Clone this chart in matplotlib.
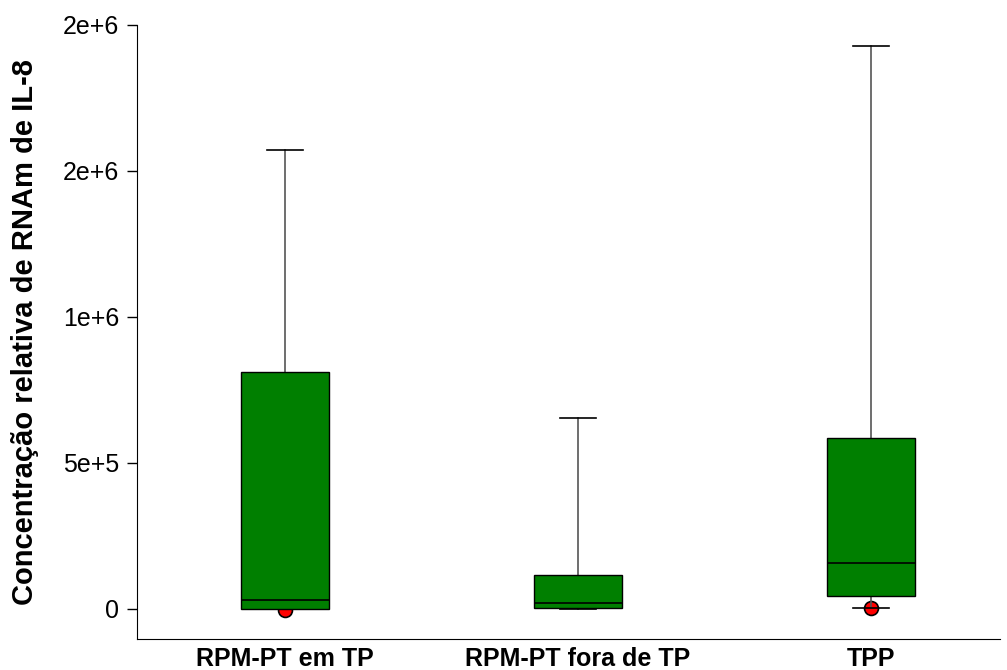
import matplotlib
matplotlib.use("Agg")
import matplotlib.pyplot as plt
import matplotlib.ticker as mticker

plt.rcParams["font.family"] = ["Liberation Sans", "DejaVu Sans"]

# Box statistics
groups = ["RPM-PT em TP", "RPM-PT fora de TP", "TPP"]
whisker_low = [0, 1000, 3400]
q1 = [1000, 3400, 44500]
medians = [30800, 20500, 157500]
q3 = [811600, 116400, 585600]
whisker_high = [1571900, 654100, 1928000]
outliers = [[-3000], [], [3400]]

yticks = [0, 5e5, 1e6, 1.5e6, 2e6]
ytick_labels = ["0", "5e+5", "1e+6", "2e+6", "2e+6"]

stats = []
for i in range(len(groups)):
    stats.append({
        "label": groups[i],
        "whislo": whisker_low[i],
        "q1": q1[i],
        "med": medians[i],
        "q3": q3[i],
        "whishi": whisker_high[i],
        "fliers": outliers[i],
    })

fig = plt.figure(figsize=(10.07, 6.70), dpi=100)
ax = fig.add_axes([0.136, 0.0463, 0.857, 0.9164])

ax.bxp(
    stats,
    positions=[1, 2, 3],
    widths=0.30,
    patch_artist=True,
    boxprops=dict(facecolor="#007f00", edgecolor="black", linewidth=1.0, zorder=3),
    medianprops=dict(color="black", linewidth=1.2, zorder=4),
    whiskerprops=dict(color="#555555", linewidth=1.2, zorder=2),
    capprops=dict(color="black", linewidth=1.2, zorder=2),
    capwidths=0.123,
    flierprops=dict(marker="o", markerfacecolor="red", markeredgecolor="black",
                    markersize=10, markeredgewidth=1.2, zorder=1),
)

ax.set_xlim(0.495, 3.44)
ax.set_ylim(-102740, 2e6)
ax.yaxis.set_major_locator(mticker.FixedLocator(yticks))
ax.yaxis.set_major_formatter(mticker.FixedFormatter(ytick_labels))

ax.spines["top"].set_visible(False)
ax.spines["right"].set_visible(False)
ax.tick_params(axis="y", direction="out", length=7, width=1, labelsize=18, pad=6)
ax.tick_params(axis="x", length=0, pad=6)
ax.set_xticks([1, 2, 3])
ax.set_xticklabels(groups, fontsize=18, fontweight="bold")

ax.set_ylabel("Concentração relativa de RNAm de IL-8", fontsize=21, fontweight="bold", va="center")
ax.yaxis.set_label_coords(-0.130, 0.5)

fig.savefig("out.png", dpi=100)
